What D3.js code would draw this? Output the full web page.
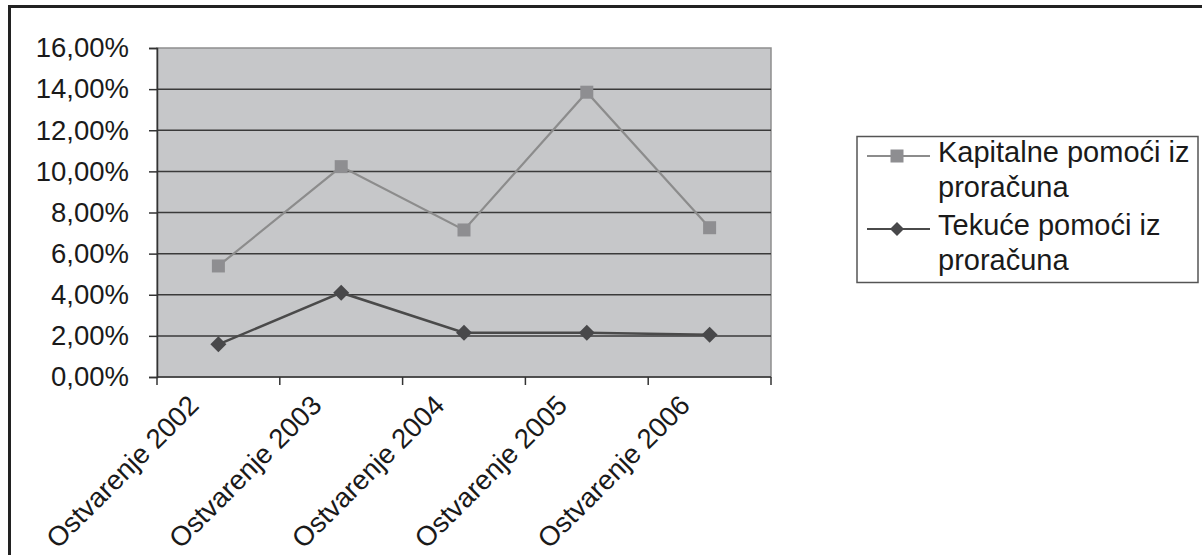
<!DOCTYPE html>
<html><head><meta charset="utf-8">
<script src="https://cdn.jsdelivr.net/npm/d3@7"></script>
<style>
html,body{margin:0;padding:0;background:#fff;}
svg{display:block;font-family:"Liberation Sans",Arial,sans-serif;}
</style></head>
<body>
<svg id="c" width="1202" height="555"></svg>
<script>
const categories = ["Ostvarenje 2002","Ostvarenje 2003","Ostvarenje 2004","Ostvarenje 2005","Ostvarenje 2006"];
const kapitalne = [5.40, 10.23, 7.15, 13.85, 7.26];
const tekuce = [1.59, 4.10, 2.15, 2.15, 2.06];
const yTicks = [0,2,4,6,8,10,12,14,16];
const seriesNames = [["Kapitalne pomoći iz","proračuna"],["Tekuće pomoći iz","proračuna"]];

const svg = d3.select("#c");
const L=157, R=771, T=48, B=377;
const x = d3.scaleBand().domain(categories).range([L,R]).padding(0);
const y = d3.scaleLinear().domain([0,16]).range([B,T]);
const fmt = v => d3.format(".2f")(v).replace(".",",")+"%";

// outer frame
svg.append("path").attr("d",`M9.5,${560} L9.5,6.5 L${1210},6.5`).attr("fill","none").attr("stroke","#222").attr("stroke-width",3);

// plot area
svg.append("rect").attr("x",L).attr("y",T).attr("width",R-L).attr("height",B-T)
  .attr("fill","#c6c7c9").attr("stroke","#8e8e8e").attr("stroke-width",1.5);

// gridlines
svg.append("g").selectAll("line").data(yTicks.filter(d=>d>0&&d<16)).join("line")
  .attr("x1",L).attr("x2",R).attr("y1",d=>y(d)).attr("y2",d=>y(d))
  .attr("stroke","#3a3a3a").attr("stroke-width",1.5);

// y axis
const yAxis = svg.append("g").attr("transform",`translate(${L},0)`)
  .call(d3.axisLeft(y).tickValues(yTicks).tickSize(8).tickPadding(20).tickFormat(fmt));
yAxis.select(".domain").attr("stroke","#333").attr("stroke-width",1.5);
yAxis.selectAll(".tick line").attr("stroke","#333").attr("stroke-width",1.5);
yAxis.selectAll("text").attr("font-size",27.5).attr("fill","#1a1a1a").attr("font-family","Liberation Sans, Arial, sans-serif");

// x axis
const xAxis = svg.append("g").attr("transform",`translate(0,${B})`);
xAxis.append("line").attr("x1",L).attr("x2",R).attr("stroke","#333").attr("stroke-width",1.5);
const bounds = categories.map(c=>x(c)).concat([R]);
xAxis.selectAll("line.t").data(bounds).join("line").attr("class","t")
  .attr("x1",d=>d).attr("x2",d=>d).attr("y1",0).attr("y2",8).attr("stroke","#333").attr("stroke-width",1.5);
svg.append("g").selectAll("text").data(categories).join("text")
  .attr("transform",d=>`translate(${x(d)+x.bandwidth()/2-18},${B+30}) rotate(-45)`)
  .attr("text-anchor","end").attr("font-size",27.5).attr("fill","#1a1a1a").text(d=>d);

const cx = d => x(d)+x.bandwidth()/2;
const line = d3.line().x((v,i)=>cx(categories[i])).y(v=>y(v));

// Kapitalne
svg.append("path").datum(kapitalne).attr("d",line).attr("fill","none").attr("stroke","#8c8c8c").attr("stroke-width",2.2);
svg.append("g").selectAll("rect").data(kapitalne).join("rect")
  .attr("x",(v,i)=>cx(categories[i])-6.5).attr("y",v=>y(v)-6.5).attr("width",13).attr("height",13).attr("fill","#8e8e91");
// Tekuce
svg.append("path").datum(tekuce).attr("d",line).attr("fill","none").attr("stroke","#4a4a4a").attr("stroke-width",2.5);
svg.append("g").selectAll("path.d").data(tekuce).join("path").attr("class","d")
  .attr("d",(v,i)=>{const px=cx(categories[i]),py=y(v),s=8;return `M${px},${py-s}L${px+s},${py}L${px},${py+s}L${px-s},${py}Z`;})
  .attr("fill","#48484a");

// legend
const lg = svg.append("g");
lg.append("rect").attr("x",857).attr("y",136.5).attr("width",341).attr("height",146).attr("fill","#fff").attr("stroke","#555").attr("stroke-width",1.5);
const entries = [{base:162, color:"#8c8c8c", mk:"sq"},{base:235, color:"#4a4a4a", mk:"dm"}];
entries.forEach((e,k)=>{
  const my = e.base-6;
  lg.append("line").attr("x1",867).attr("x2",930).attr("y1",my).attr("y2",my).attr("stroke",e.color).attr("stroke-width",2.2);
  if(e.mk==="sq") lg.append("rect").attr("x",897-6.5).attr("y",my-6.5).attr("width",13).attr("height",13).attr("fill","#8e8e91");
  else lg.append("path").attr("d",`M897,${my-7}L904,${my}L897,${my+7}L890,${my}Z`).attr("fill","#48484a");
  seriesNames[k].forEach((t,j)=>{
    lg.append("text").attr("x",938).attr("y",e.base+j*35).attr("font-size",29).attr("fill","#1a1a1a").text(t);
  });
});
</script>
</body></html>
